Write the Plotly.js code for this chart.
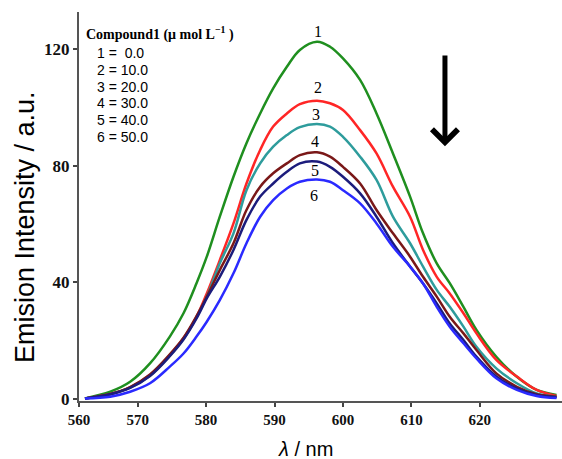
<!DOCTYPE html>
<html>
<head>
<meta charset="utf-8">
<script src="https://cdn.plot.ly/plotly-3.0.1.min.js"></script>
<style>html,body{margin:0;padding:0;background:#fff;}#chart{width:562px;height:459px;}</style>
</head>
<body>
<div id="chart"></div>
<script>
// ---- data ----
const wavelength = [562.3, 566.0, 568.9, 571.8, 574.7, 576.7, 578.6, 580.1, 582.0, 584.0, 585.9, 587.9, 589.8, 591.8, 593.7, 596.2,
                    598.1, 600.0, 602.5, 604.9, 607.3, 609.8, 611.7, 613.7, 615.6, 617.6, 619.5, 622.4, 625.4, 628.3, 631.2];
const curve1 = [0.2, 2.5, 5.9, 12.2, 21.4, 29.4, 39.7, 48.8, 62.5, 76.2, 87.7, 97.9, 106.5, 113.9, 119.7, 122.5,
                120.8, 116.8, 109.4, 97.9, 84.2, 69.4, 56.8, 46.5, 39.7, 31.6, 23.7, 14.5, 7.6, 3.1, 1.4];
const curve2 = [0.2, 1.7, 4.0, 8.2, 15.1, 20.8, 28.2, 36.2, 47.6, 60.2, 73.9, 85.4, 93.4, 97.9, 101.1, 102.3,
                101.4, 99.1, 92.2, 84.2, 72.8, 62.5, 51.1, 41.9, 36.2, 29.4, 22.5, 13.4, 7.7, 3.1, 1.0];
const curve3 = [0.2, 1.6, 3.9, 8.0, 14.9, 20.6, 28.0, 35.1, 46.5, 56.8, 71.6, 80.8, 86.5, 90.5, 93.2, 94.3,
                93.4, 89.9, 83.1, 75.1, 62.5, 53.4, 45.4, 37.4, 31.6, 24.8, 17.9, 10.5, 5.4, 1.9, 0.8];
const curve4 = [0.2, 1.7, 4.1, 8.4, 15.3, 21.0, 28.4, 35.1, 44.2, 53.4, 64.8, 72.8, 77.4, 80.8, 83.6, 84.6,
                83.1, 79.6, 73.9, 64.8, 56.8, 48.8, 41.9, 35.1, 28.2, 22.5, 16.8, 8.8, 4.2, 1.6, 0.8];
const curve5 = [0.2, 1.6, 3.8, 7.9, 14.7, 20.4, 27.6, 34.5, 41.9, 51.1, 61.4, 69.4, 73.9, 77.9, 80.8, 81.4,
                79.6, 76.2, 70.5, 62.5, 53.4, 45.4, 39.6, 32.8, 25.9, 20.2, 14.5, 7.7, 3.6, 1.4, 0.6];
const curve6 = [0.2, 0.8, 2.5, 5.4, 11.1, 15.6, 21.4, 26.5, 33.9, 43.1, 53.4, 62.5, 68.2, 72.2, 74.5, 75.3,
                74.5, 71.6, 67.1, 60.2, 52.2, 45.4, 39.6, 31.6, 24.8, 19.1, 13.9, 7.1, 3.1, 1.0, 0.3];
const curveNames = ["1", "2", "3", "4", "5", "6"];
const concLabels = ["1 =\u00a0\u00a00.0", "2 = 10.0", "3 = 20.0", "4 = 30.0", "5 = 40.0", "6 = 50.0"];
const xTickVals = [561.43, 570, 580, 590, 600, 610, 620];
const xTickText = ["560", "570", "580", "590", "600", "610", "620"];
const yTickVals = [0, 40, 80, 120];

// ---- styling / placement ----
const W = 562, H = 459, ML = 79, MR = 0, MT = 12, MB = 58;
const px = v => (v - ML) / (W - ML - MR);          // pixel x -> paper x
const py = v => (H - MB - v) / (H - MB - MT);      // pixel y -> paper y

const series = [curve1, curve2, curve3, curve4, curve5, curve6];
const colors = ["#1f8f1f", "#ff2626", "#2e9c9c", "#7a1818", "#1c1c7c", "#2a2aff"];
const labelPos = [[596.3, 125.9], [596.3, 106.7], [596.1, 97.6], [595.9, 88.2], [595.9, 78.3], [595.8, 69.7]];

const traces = series.map((ys, i) => ({
  x: wavelength, y: ys, type: "scatter", mode: "lines", name: curveNames[i],
  line: {color: colors[i], width: 2.5, shape: "spline", smoothing: 1},
  hoverinfo: "skip"
}));

const annotations = [];
curveNames.forEach((n, i) => annotations.push({
  x: labelPos[i][0], y: labelPos[i][1], xref: "x", yref: "y", text: n, showarrow: false,
  font: {family: "Liberation Serif, serif", size: 16, color: "#000"}
}));
annotations.push({
  x: px(84), y: py(33.5), xref: "paper", yref: "paper", xanchor: "left", yanchor: "middle",
  text: "Compound1 (μ mol L<sup>−1</sup> )", showarrow: false,
  font: {family: "Liberation Serif, serif", size: 14, color: "#000", weight: "bold"}
});
concLabels.forEach((t, i) => annotations.push({
  x: px(95), y: py(53.3 + 16.67 * i), xref: "paper", yref: "paper", xanchor: "left", yanchor: "middle",
  text: t, showarrow: false,
  font: {family: "Liberation Sans, Arial, sans-serif", size: 14, color: "#000"}
}));
// downward arrow
annotations.push({
  x: 614.9, y: 86.7, ax: 614.9, ay: 118.3, xref: "x", yref: "y", axref: "x", ayref: "y",
  text: "", showarrow: true, arrowhead: 4, arrowsize: 1, arrowwidth: 5, arrowcolor: "#000", standoff: 0
});
// axis titles
annotations.push({
  x: px(25), y: py(227), xref: "paper", yref: "paper", xanchor: "center", yanchor: "middle",
  text: "Emision Intensity / a.u.", textangle: -90, showarrow: false,
  font: {family: "Liberation Sans, Arial, sans-serif", size: 27, color: "#000"}
});
annotations.push({
  x: px(305), y: py(449), xref: "paper", yref: "paper", xanchor: "center", yanchor: "middle",
  text: "<i>λ</i> / nm", showarrow: false,
  font: {family: "Liberation Sans, Arial, sans-serif", size: 20, color: "#000"}
});

const layout = {
  width: W, height: H,
  margin: {l: ML, r: MR, t: MT, b: MB, pad: 0},
  paper_bgcolor: "#fff", plot_bgcolor: "#fff",
  showlegend: false,
  xaxis: {
    range: [561.43, 632], tickvals: xTickVals, ticktext: xTickText,
    showgrid: false, zeroline: false, showline: true, linecolor: "#555", linewidth: 2,
    ticks: "outside", ticklen: 4, tickwidth: 2, tickcolor: "#444",
    tickfont: {family: "Liberation Serif, serif", size: 15, color: "#111", weight: "bold"}
  },
  yaxis: {
    range: [-0.69, 132.7], tickvals: yTickVals,
    showgrid: false, zeroline: false, showline: true, linecolor: "#555", linewidth: 2,
    ticks: "outside", ticklen: 4, tickwidth: 2, tickcolor: "#444",
    tickfont: {family: "Liberation Serif, serif", size: 17, color: "#111", weight: "bold"}
  },
  annotations: annotations
};

Plotly.newPlot("chart", traces, layout, {staticPlot: true, displayModeBar: false});
</script>
</body>
</html>
